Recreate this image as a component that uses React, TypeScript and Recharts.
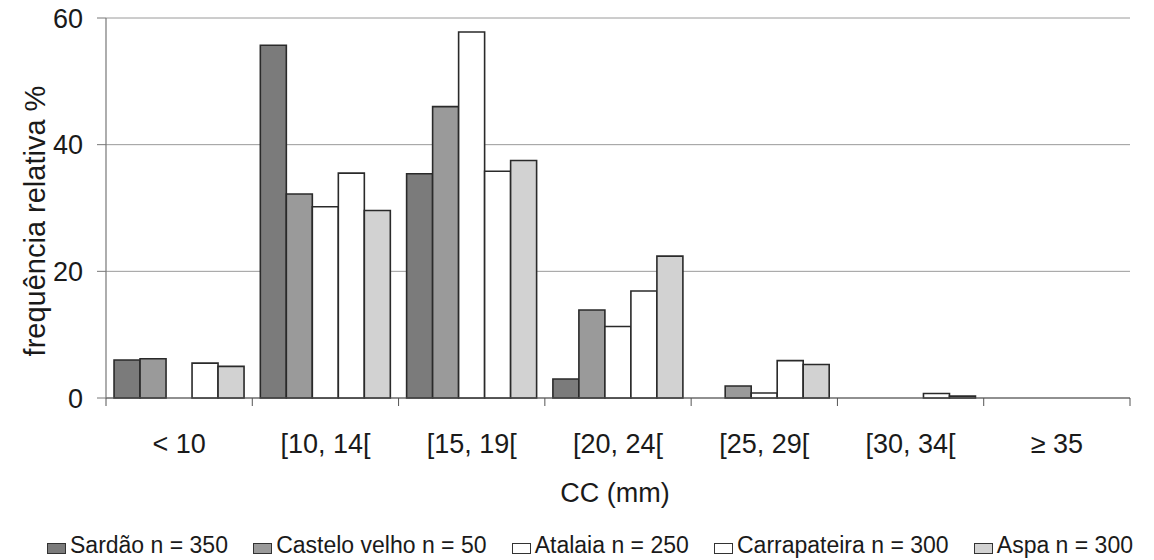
import React from 'react';
import { BarChart, Bar, XAxis, YAxis, CartesianGrid, Legend } from 'recharts';

const categories = ['< 10', '[10, 14[', '[15, 19[', '[20, 24[', '[25, 29[', '[30, 34[', '≥ 35'];
const sardao = [6.0, 55.7, 35.4, 3.0, 0, 0, 0];
const casteloVelho = [6.2, 32.2, 46.0, 13.9, 1.9, 0, 0];
const atalaia = [0, 30.2, 57.8, 11.3, 0.8, 0, 0];
const carrapateira = [5.5, 35.5, 35.8, 16.9, 5.9, 0.7, 0];
const aspa = [5.0, 29.6, 37.5, 22.4, 5.3, 0.3, 0];
const seriesNames = ['Sardão n = 350', 'Castelo velho n = 50', 'Atalaia n = 250', 'Carrapateira n = 300', 'Aspa n = 300'];
const seriesColors = ['#7b7b7b', '#9a9a9a', '#ffffff', '#ffffff', '#d2d2d2'];
const yTicks = [0, 20, 40, 60];
const yLabel = 'frequência relativa %';
const xLabel = 'CC (mm)';

const seriesValues = [sardao, casteloVelho, atalaia, carrapateira, aspa];
const keys = ['s0', 's1', 's2', 's3', 's4'];
const data = categories.map((c, i) => {
  const row: any = { cat: c };
  keys.forEach((k, j) => { row[k] = seriesValues[j][i]; });
  return row;
});

const W = 1154;
const H = 560;
const MARGIN = { top: 18, right: 24, left: 0, bottom: 0 };
const Y_WIDTH = 106;
const plotW = W - MARGIN.left - MARGIN.right - Y_WIDTH;
const band = plotW / categories.length;
const FONT = '"Liberation Sans", Arial, Helvetica, sans-serif';
const TEXT = '#1a1a1a';

const XTick = (props: any) => {
  const { x, y, payload } = props;
  const half = band / 2;
  const isLast = payload.value === categories[categories.length - 1];
  return (
    <g>
      <line x1={x - half} y1={y} x2={x - half} y2={y + 8} stroke="#555" strokeWidth={1} />
      {isLast && <line x1={x + half} y1={y} x2={x + half} y2={y + 8} stroke="#555" strokeWidth={1} />}
      <text x={x} y={y + 55} textAnchor="middle" fontSize={27} fill={TEXT} fontFamily={FONT}>
        {payload.value}
      </text>
    </g>
  );
};

const renderLegend = () => (
  <div
    style={{
      display: 'flex',
      justifyContent: 'space-between',
      alignItems: 'center',
      margin: '0 21px 0 47px',
      paddingTop: 22,
      fontFamily: FONT,
      fontSize: 23,
      lineHeight: '27px',
      color: TEXT,
      whiteSpace: 'nowrap',
    }}
  >
    {seriesNames.map((n, i) => (
      <div key={n} style={{ display: 'flex', alignItems: 'center' }}>
        <span
          style={{
            display: 'inline-block',
            width: 17,
            height: 9,
            background: seriesColors[i],
            border: '1.5px solid #333',
            marginRight: 4,
            marginTop: 6,
          }}
        />
        {n}
      </div>
    ))}
  </div>
);

export default function App() {
  return (
    <div style={{ position: 'absolute', left: 0, top: 0, width: W, height: H, background: '#fff' }}>
      <BarChart width={W} height={H} data={data} margin={MARGIN} barCategoryGap="5.5%" barGap={0}>
        <CartesianGrid vertical={false} stroke="#9a9a9a" strokeWidth={1} />
        <XAxis
          dataKey="cat"
          interval={0}
          tickSize={0}
          tickMargin={0}
          tickLine={false}
          height={112}
          axisLine={{ stroke: '#555', strokeWidth: 1.2 }}
          tick={<XTick />}
          label={{
            content: (p: any) => {
              const vb = p.viewBox;
              return (
                <text x={vb.x + vb.width / 2 - 3} y={vb.y + vb.height - 8} textAnchor="middle" fontSize={27} fill={TEXT} fontFamily={FONT}>
                  {xLabel}
                </text>
              );
            },
          }}
        />
        <YAxis
          width={Y_WIDTH}
          domain={[0, 60]}
          ticks={yTicks}
          interval={0}
          tickSize={9}
          tickMargin={14}
          axisLine={{ stroke: '#777', strokeWidth: 1.2 }}
          tickLine={{ stroke: '#777' }}
          tick={{ fontSize: 27, fill: TEXT, fontFamily: FONT }}
          label={{
            content: () => (
              <text transform="translate(45, 221) rotate(-90)" textAnchor="middle" fontSize={29} fill={TEXT} fontFamily={FONT}>
                {yLabel}
              </text>
            ),
          }}
        />
        <YAxis yAxisId="r" orientation="right" width={0} domain={[0, 60]} tick={false} tickLine={false} axisLine={{ stroke: '#bbb' }} />
        <Legend verticalAlign="bottom" height={50} content={renderLegend} wrapperStyle={{ left: 0, width: W, top: 510, height: 50 }} />
        {keys.map((k, i) => (
          <Bar
            key={k}
            dataKey={k}
            name={seriesNames[i]}
            fill={seriesColors[i]}
            stroke="#2a2a2a"
            strokeWidth={1.6}
            isAnimationActive={false}
          />
        ))}
      </BarChart>
    </div>
  );
}
